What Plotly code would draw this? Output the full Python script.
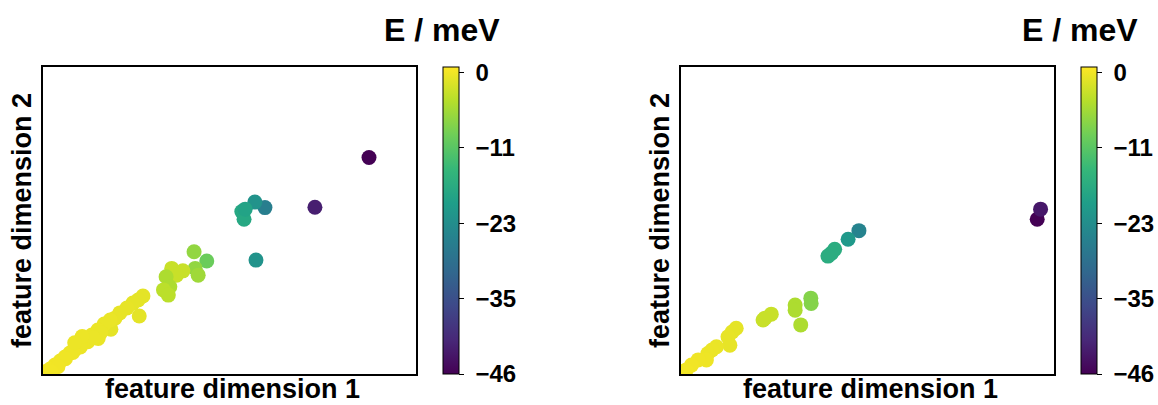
import plotly.graph_objects as go

# Left panel data (normalized feature coordinates) and energies (meV)
left_x = [0.874, 0.729, 0.595, 0.568, 0.533, 0.539, 0.542, 0.571,
          0.405, 0.439, 0.408, 0.416, 0.345, 0.375, 0.358, 0.330, 0.340, 0.323, 0.336,
          0.268, 0.255, 0.241, 0.258, 0.225, 0.206, 0.193, 0.182, 0.180, 0.164, 0.148,
          0.147, 0.131, 0.115, 0.099, 0.086, 0.072, 0.059, 0.046, 0.032, 0.019, 0.005,
          0.120, 0.100, 0.080, 0.060, 0.155, 0.135, 0.105, 0.085, 0.040, 0.022]
left_y = [0.705, 0.543, 0.542, 0.560, 0.529, 0.504, 0.537, 0.371,
          0.398, 0.368, 0.344, 0.322, 0.344, 0.336, 0.322, 0.317, 0.284, 0.274, 0.257,
          0.254, 0.241, 0.231, 0.189, 0.215, 0.199, 0.182, 0.146, 0.176, 0.163, 0.116,
          0.143, 0.127, 0.111, 0.094, 0.081, 0.068, 0.055, 0.042, 0.029, 0.016, 0.007,
          0.105, 0.088, 0.070, 0.050, 0.135, 0.118, 0.122, 0.102, 0.024, 0.007]
left_e = [-46, -42, -26, -22, -18, -18, -19, -22,
          -7, -10, -7, -6, -3, -3, -3, -5, -5, -4, -4,
          -1.0, -1.0, -0.9, -1.0, -0.8, -0.8, -0.7, -0.9, -0.6, -0.6, -0.6,
          -0.5, -0.5, -0.4, -0.4, -0.3, -0.3, -0.2, -0.2, -0.1, 0.0, 0.0,
          -0.4, -0.4, -0.3, -0.2, -0.6, -0.5, -0.4, -0.4, -0.1, 0.0]

# Right panel data
right_x = [0.955, 0.964, 0.477, 0.448, 0.412, 0.403, 0.394,
           0.348, 0.349, 0.306, 0.306, 0.321, 0.242, 0.225, 0.220,
           0.148, 0.137, 0.126, 0.131, 0.095, 0.083, 0.072, 0.068, 0.046, 0.028, 0.014, 0.005]
right_y = [0.504, 0.537, 0.467, 0.439, 0.406, 0.393, 0.384,
           0.247, 0.230, 0.225, 0.208, 0.160, 0.195, 0.182, 0.176,
           0.149, 0.137, 0.121, 0.094, 0.089, 0.078, 0.067, 0.046, 0.046, 0.029, 0.013, 0.007]
right_e = [-46, -43, -25, -21, -17, -17, -17,
           -8, -8, -5, -5, -5, -3, -3, -3,
           -0.9, -0.9, -0.8, -0.8, -0.6, -0.5, -0.4, -0.3, -0.2, -0.1, 0.0, 0.0]

cbar_vals = [-46, -34.5, -23, -11.5, 0]
cbar_text = ["\u221246", "\u221235", "\u221223", "\u221211", "0"]

FONT = "Liberation Sans"
W, H = 1158, 405


def px(x):
    return x / W


def py(y):
    return (H - y) / H


fig = go.Figure()


def cbar(xpx):
    return dict(
        x=px(xpx), xanchor="left", xref="paper",
        y=py(374), yanchor="bottom", len=307 / H, lenmode="fraction",
        thickness=16, thicknessmode="pixels",
        outlinecolor="black", outlinewidth=1,
        tickmode="array", tickvals=cbar_vals,
        ticktext=["\u00a0" + t for t in cbar_text],
        ticks="outside", ticklen=5, tickwidth=1, tickcolor="black",
        tickfont=dict(family=FONT, size=24, color="black", weight="bold"),
        xpad=0, ypad=0,
    )


fig.add_trace(go.Scatter(
    x=left_x, y=left_y, mode="markers", xaxis="x", yaxis="y",
    marker=dict(size=15, color=left_e, colorscale="Viridis", cmin=-46, cmax=0.8,
                line=dict(width=0), colorbar=cbar(443)),
    showlegend=False))

fig.add_trace(go.Scatter(
    x=right_x, y=right_y, mode="markers", xaxis="x2", yaxis="y2",
    marker=dict(size=15, color=right_e, colorscale="Viridis", cmin=-46, cmax=0.8,
                line=dict(width=0), colorbar=cbar(1081)),
    showlegend=False))

ydom = [py(374), py(67)]
axis_common = dict(range=[0, 1], showgrid=False, zeroline=False, showticklabels=False,
                   ticks="", showline=True, linecolor="black", linewidth=1.5, mirror=True)

tfont = dict(family=FONT, size=27, color="black", weight="bold")
efont = dict(family=FONT, size=32, color="black", weight="bold")

fig.update_layout(
    width=W, height=H,
    margin=dict(l=0, r=0, t=0, b=0),
    paper_bgcolor="white", plot_bgcolor="white",
    xaxis=dict(domain=[px(43), px(416)], anchor="y", **axis_common),
    yaxis=dict(domain=ydom, anchor="x", **axis_common),
    xaxis2=dict(domain=[px(681), px(1054)], anchor="y2", **axis_common),
    yaxis2=dict(domain=ydom, anchor="x2", **axis_common),
    annotations=[
        dict(text="feature dimension 1", x=px(232), y=0, xref="paper", yref="paper",
             showarrow=False, font=tfont, xanchor="center", yanchor="bottom", borderpad=0),
        dict(text="feature dimension 1", x=px(870), y=0, xref="paper", yref="paper",
             showarrow=False, font=tfont, xanchor="center", yanchor="bottom", borderpad=0),
        dict(text="feature dimension 2", x=px(22), y=py(221), xref="paper", yref="paper",
             showarrow=False, font=tfont, textangle=-90, xanchor="center", yanchor="middle"),
        dict(text="feature dimension 2", x=px(660), y=py(221), xref="paper", yref="paper",
             showarrow=False, font=tfont, textangle=-90, xanchor="center", yanchor="middle"),
        dict(text="E / meV", x=px(442), y=py(30), xref="paper", yref="paper",
             showarrow=False, font=efont, xanchor="center", yanchor="middle"),
        dict(text="E / meV", x=px(1080), y=py(30), xref="paper", yref="paper",
             showarrow=False, font=efont, xanchor="center", yanchor="middle"),
    ],
)

fig.write_html(
    "out.html",
    config={"displayModeBar": False},
    post_script="document.body.style.margin='0';document.body.style.overflow='hidden';",
)
